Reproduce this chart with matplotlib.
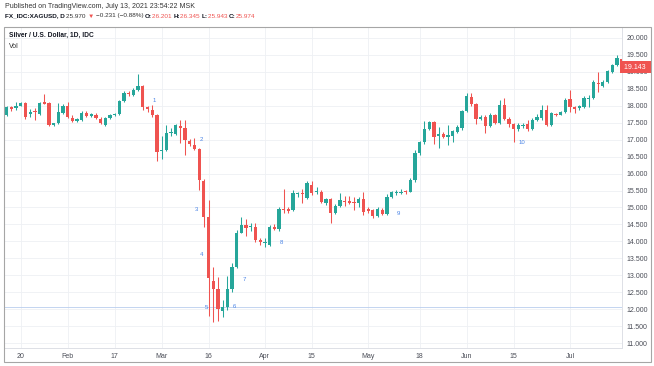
import numpy as np
import pandas as pd
import matplotlib
matplotlib.use('Agg')
import matplotlib.pyplot as plt
import matplotlib.transforms as mtransforms
from matplotlib.patches import Rectangle

plt.rcParams['font.family'] = ['Liberation Sans', 'DejaVu Sans']

# daily bars, Jan 15 - Jul 16 2020 (weekdays)
dates = pd.bdate_range('2020-01-15', '2020-07-16')

opens = [17.73, 17.95, 17.92, 18.00, 18.09, 17.76, 17.85, 17.75, 18.10, 18.07,
         17.42, 17.50, 17.80, 18.00, 17.63, 17.55, 17.57, 17.78, 17.69, 17.74,
         17.62, 17.43, 17.64, 17.72, 17.75, 18.14, 18.39, 18.32, 18.47, 18.59,
         17.97, 17.88, 17.73, 16.67, 16.70, 17.20, 17.17, 17.40, 17.34, 16.97,
         16.85, 16.72, 15.79, 14.73, 12.83, 12.59, 11.95, 12.07, 12.60, 13.24,
         14.26, 14.48, 14.41, 14.42, 14.04, 13.96, 13.89, 14.43, 14.37, 14.97,
         14.95, 14.93, 15.41, 15.44, 15.27, 15.66, 15.45, 15.47, 15.12, 15.24,
         14.83, 15.04, 15.20, 15.19, 15.17, 15.12, 15.24, 14.95, 14.93, 14.75,
         14.93, 14.81, 15.32, 15.42, 15.44, 15.49, 15.47, 15.80, 16.60, 16.92,
         17.31, 17.53, 17.12, 17.16, 17.07, 17.12, 17.24, 17.34, 17.85, 18.27,
         18.04, 17.61, 17.68, 17.41, 17.73, 17.48, 18.02, 17.61, 17.45, 17.31,
         17.40, 17.45, 17.31, 17.58, 17.63, 17.88, 17.43, 17.76, 17.74, 17.82,
         18.19, 17.97, 17.92, 17.97, 18.21, 18.24, 18.66, 18.59, 18.69, 19.01,
         19.20, 19.38]
highs = [17.99, 17.99, 18.12, 18.12, 18.12, 17.90, 17.92, 18.12, 18.34, 18.10,
         17.50, 18.07, 18.04, 18.10, 17.73, 17.64, 17.85, 17.85, 17.80, 17.79,
         17.66, 17.66, 17.75, 17.79, 18.17, 18.43, 18.45, 18.52, 18.94, 18.62,
         17.99, 18.02, 17.76, 17.10, 17.43, 17.33, 17.45, 17.58, 17.58, 17.02,
         17.04, 16.75, 15.85, 15.22, 13.25, 12.96, 12.27, 12.98, 13.35, 14.34,
         14.73, 14.66, 14.53, 14.53, 14.10, 14.09, 14.48, 14.50, 15.00, 15.54,
         15.00, 15.52, 15.47, 15.56, 15.79, 15.79, 15.60, 15.52, 15.28, 15.28,
         15.10, 15.42, 15.34, 15.33, 15.32, 15.30, 15.47, 15.00, 14.96, 15.00,
         14.98, 15.40, 15.50, 15.52, 15.55, 15.52, 15.87, 16.70, 16.95, 17.55,
         17.56, 17.56, 17.38, 17.22, 17.43, 17.30, 17.42, 17.88, 18.39, 18.37,
         18.07, 17.72, 17.72, 17.78, 17.76, 18.17, 18.24, 17.66, 17.48, 17.48,
         17.48, 17.58, 17.65, 17.76, 18.02, 18.02, 17.82, 17.78, 17.86, 18.22,
         18.47, 18.00, 18.02, 18.29, 18.32, 18.76, 19.00, 18.76, 19.05, 19.23,
         19.50, 19.42]
lows = [17.70, 17.86, 17.89, 17.98, 17.61, 17.68, 17.58, 17.73, 18.04, 17.40,
        17.39, 17.47, 17.77, 17.64, 17.53, 17.52, 17.54, 17.68, 17.66, 17.60,
        17.45, 17.41, 17.61, 17.70, 17.73, 18.12, 18.30, 18.29, 18.45, 17.88,
        17.83, 17.68, 16.38, 16.42, 16.67, 17.10, 17.15, 16.89, 16.55, 16.80,
        16.70, 15.52, 14.43, 11.80, 11.63, 11.64, 11.78, 11.98, 12.52, 13.21,
        14.24, 14.16, 14.30, 13.99, 13.88, 13.84, 13.85, 14.33, 14.30, 14.85,
        14.85, 14.90, 15.32, 15.12, 15.24, 15.38, 15.40, 15.12, 15.08, 14.53,
        14.80, 15.00, 15.03, 15.10, 14.93, 15.00, 14.78, 14.85, 14.70, 14.72,
        14.77, 14.78, 15.28, 15.38, 15.40, 15.40, 15.45, 15.76, 16.55, 16.88,
        17.28, 16.86, 16.75, 17.04, 16.85, 16.94, 17.20, 17.30, 17.82, 18.00,
        17.45, 17.58, 17.19, 17.38, 17.45, 17.45, 17.58, 17.38, 16.92, 17.27,
        17.35, 17.27, 17.28, 17.55, 17.58, 17.40, 17.40, 17.70, 17.72, 17.78,
        17.82, 17.78, 17.88, 17.93, 17.97, 18.20, 18.42, 18.55, 18.66, 18.98,
        19.17, 19.10]
closes = [17.95, 17.90, 17.99, 18.07, 17.68, 17.82, 17.82, 18.09, 18.06, 17.43,
          17.48, 17.82, 18.00, 17.68, 17.56, 17.60, 17.80, 17.71, 17.75, 17.63,
          17.48, 17.63, 17.72, 17.76, 18.14, 18.39, 18.35, 18.47, 18.59, 17.95,
          17.90, 17.73, 16.65, 16.70, 17.19, 17.23, 17.42, 17.35, 16.99, 16.87,
          16.73, 15.81, 14.73, 12.91, 12.59, 12.02, 12.07, 12.60, 13.24, 14.26,
          14.48, 14.39, 14.44, 14.04, 13.97, 13.98, 14.43, 14.37, 14.96, 14.92,
          14.90, 15.42, 15.43, 15.40, 15.73, 15.42, 15.50, 15.17, 15.24, 14.83,
          15.04, 15.22, 15.16, 15.14, 15.12, 15.24, 14.88, 14.91, 14.75, 14.95,
          14.81, 15.32, 15.45, 15.47, 15.47, 15.45, 15.81, 16.60, 16.92, 17.32,
          17.53, 17.09, 17.17, 17.09, 17.14, 17.26, 17.36, 17.85, 18.29, 18.04,
          17.61, 17.68, 17.41, 17.73, 17.48, 18.02, 17.61, 17.45, 17.31, 17.43,
          17.43, 17.31, 17.58, 17.68, 17.88, 17.43, 17.78, 17.73, 17.82, 18.17,
          17.97, 17.90, 17.99, 18.24, 18.24, 18.71, 18.63, 18.71, 19.03, 19.20,
          19.40, 19.143]

tick_dates = ['2020-01-20', '2020-02-03', '2020-02-17', '2020-03-02', '2020-03-16', '2020-04-01',
              '2020-04-15', '2020-05-01', '2020-05-18', '2020-06-01', '2020-06-15', '2020-07-01']
tick_labels = ['20', 'Feb', '17', 'Mar', '16', 'Apr', '15', 'May', '18', 'Jun', '15', 'Jul']
price_ticks = np.arange(11.0, 20.01, 0.5)

# wave count marks (bar position, price)
wave_text = ['1', '2', '3', '4', '5', '6', '7', '8', '9', '10']
wave_bar = [31.4, 41.5, 40.5, 41.4, 42.5, 48.5, 50.6, 58.6, 83.4, 109.8]
wave_price = [18.17, 17.02, 14.95, 13.62, 12.06, 12.07, 12.89, 13.97, 14.81, 16.92]
support_level = 12.06

GREEN = '#26a69a'
RED = '#ef5350'
W, H = 654, 366


def px(x, y):
    return x / W, 1 - y / H


fig = plt.figure(figsize=(W / 100, H / 100), dpi=100)
ax = fig.add_axes([4 / W, (H - 348) / H, 618 / W, 321 / H])

x = np.arange(len(dates))
o = np.array(opens)
h = np.array(highs)
l = np.array(lows)
c = np.array(closes)
col = np.where(c >= o, GREEN, RED)

ax.vlines(x, l, h, colors=col, lw=0.75, zorder=3)
ax.bar(x, np.maximum(np.abs(c - o), 0.025), bottom=np.minimum(o, c),
       width=0.7, color=col, lw=0, zorder=4)

ax.axhline(support_level, color='#b9cdee', lw=0.6, zorder=2)
for t, b, p in zip(wave_text, wave_bar, wave_price):
    ax.text(b, p, t, color='#4a84e6', fontsize=4.3, ha='center', va='center', zorder=5)

pos = {d: i for i, d in enumerate(dates.strftime('%Y-%m-%d'))}
ax.set_xticks([pos[d] for d in tick_dates])
ax.set_xticklabels(tick_labels)
ax.set_yticks(price_ticks)
ax.set_yticklabels(['%.3f' % v for v in price_ticks])
ax.yaxis.tick_right()
ax.tick_params(axis='both', length=0, labelsize=5, colors='#4a4d57')
ax.tick_params(axis='y', pad=3.2)
ax.tick_params(axis='x', pad=3.5)
ax.set_xlim(-0.575, 131.08)
ax.set_ylim(10.855, 20.324)
ax.grid(True, color='#eef0f4', lw=0.6)
ax.set_axisbelow(True)
for s in ax.spines.values():
    s.set_color('#dde0e6')
    s.set_linewidth(0.7)

# last price tag
trans = mtransforms.blended_transform_factory(ax.transAxes, ax.transData)
ax.text(1.0, closes[-1], ' %.3f  ' % closes[-1], transform=trans, ha='left', va='center',
        fontsize=5, color='white', clip_on=False, zorder=6,
        bbox=dict(boxstyle='square,pad=0.35', fc=RED, ec='none'))

# outer frame
fig.patches.append(Rectangle(px(4, 362), 647 / W, 335 / H, transform=fig.transFigure,
                             fill=False, ec='#a6a6a6', lw=0.8))

# header
fig.text(*px(5, 7), 'Published on TradingView.com, July 13, 2021 23:54:22 MSK',
         fontsize=5, color='#333333', va='center')
header = [('FX_IDC:XAGUSD, D ', '#131722', 'bold'),
          ('25.970 ', '#333333', 'normal'),
          ('\u25bc ', RED, 'normal'),
          ('\u22120.231 (\u22120.88%) ', '#333333', 'normal'),
          ('O:', '#131722', 'bold'), ('26.201 ', RED, 'normal'),
          ('H:', '#131722', 'bold'), ('26.345 ', RED, 'normal'),
          ('L:', '#131722', 'bold'), ('25.943 ', RED, 'normal'),
          ('C:', '#131722', 'bold'), ('25.974', RED, 'normal')]
renderer = fig.canvas.get_renderer()
xp = 5.0
for txt, color, wt in header:
    t = fig.text(*px(xp, 16), txt, fontsize=4.6, color=color, fontweight=wt, va='center',
                 family=['Liberation Sans', 'DejaVu Sans'])
    xp += t.get_window_extent(renderer).width

fig.text(*px(9, 35), 'Silver / U.S. Dollar, 1D, IDC', fontsize=4.8, color='#131722',
         fontweight='bold', va='center')
fig.text(*px(9, 46), 'Vol', fontsize=5, color='#333333', va='center')

fig.savefig('out.png', dpi=100, facecolor='white')
